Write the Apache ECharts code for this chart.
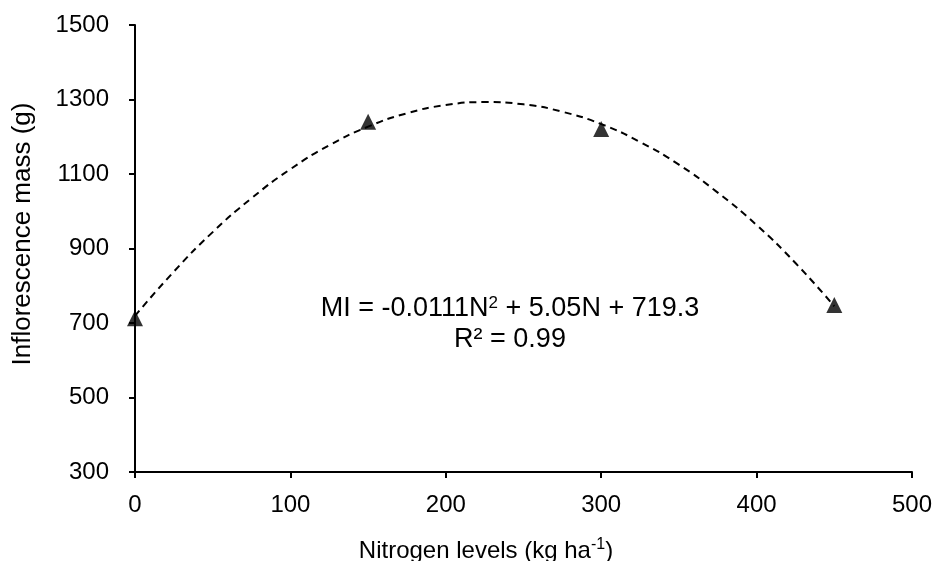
<!DOCTYPE html>
<html><head><meta charset="utf-8">
<script src="https://cdn.jsdelivr.net/npm/echarts@6/dist/echarts.min.js"></script>
<style>html,body{margin:0;padding:0;background:#fff}#c{width:936px;height:561px}</style>
</head><body><div id="c"></div>
<script>
// Observed points
const nitrogen = [0, 150, 300, 450];
const mass = [713, 1240, 1221, 748];
// Dashed trendline, values
const trendN = [0,25,50,75,100,125,150,175,200,225,250,275,300,325,350,375,400,425,450];
const trendMass = [719,838,944,1035,1113,1177,1227,1263,1285,1293,1287,1267,1234,1186,1125,1050,963,861,745];
const xTicks = [0,100,200,300,400,500];
const yTicks = [300,500,700,900,1100,1300,1500];

const font = 'Liberation Sans, Arial, sans-serif';
const chart = echarts.init(document.getElementById('c'));
chart.setOption({
  animation:false,
  backgroundColor:'#fff',
  grid:{left:135,right:24,top:25,bottom:89},
  xAxis:{type:'value',min:xTicks[0],max:xTicks[xTicks.length-1],interval:100,
    axisLine:{lineStyle:{color:'#000',width:2}},
    axisTick:{show:true,length:6,lineStyle:{color:'#000',width:2}},
    axisLabel:{color:'#000',fontSize:24,fontFamily:font,margin:21,formatter:v=>String(v)},
    splitLine:{show:false}},
  yAxis:{type:'value',min:yTicks[0],max:yTicks[yTicks.length-1],interval:200,
    axisLine:{show:true,lineStyle:{color:'#000',width:2}},
    axisTick:{show:true,length:6,lineStyle:{color:'#000',width:2}},
    axisLabel:{color:'#000',fontSize:24,fontFamily:font,margin:26,formatter:v=>String(v)},
    splitLine:{show:false}},
  graphic:[
    {type:'text',x:23,y:234,rotation:Math.PI/2,
      style:{text:'Inflorescence mass (g)',fontSize:26,fontFamily:font,fill:'#000',align:'center',verticalAlign:'middle'}},
    {type:'text',x:486,y:551,
      style:{rich:{n:{fontSize:24,fontFamily:font,fill:'#000'},s:{fontSize:16,fontFamily:font,fill:'#000',padding:[0,0,12,0]}},
        text:'{n|Nitrogen levels (kg ha}{s|-1}{n|)}',align:'center',verticalAlign:'middle',fill:'#000',fontFamily:font}},
    {type:'text',x:510,y:309,
      style:{rich:{n:{fontSize:27,fontFamily:font,fill:'#000'},s:{fontSize:17,fontFamily:font,fill:'#000',padding:[0,0,12,0]}},
        text:'{n|MI = -0.0111N}{s|2}{n| + 5.05N + 719.3}',align:'center',verticalAlign:'middle',fill:'#000',fontFamily:font}},
    {type:'text',x:510,y:340,
      style:{text:'R² = 0.99',fontSize:27,fontFamily:font,fill:'#000',align:'center',verticalAlign:'middle'}}
  ],
  series:[
    {type:'line',data:trendN.map((n,i)=>[n,trendMass[i]]),smooth:true,showSymbol:false,
      lineStyle:{color:'#000',width:2,type:[7,5]},z:1},
    {type:'scatter',data:nitrogen.map((n,i)=>[n,mass[i]]),symbol:'triangle',symbolSize:16,
      itemStyle:{color:'#000'},z:2}
  ]
});
</script></body></html>
